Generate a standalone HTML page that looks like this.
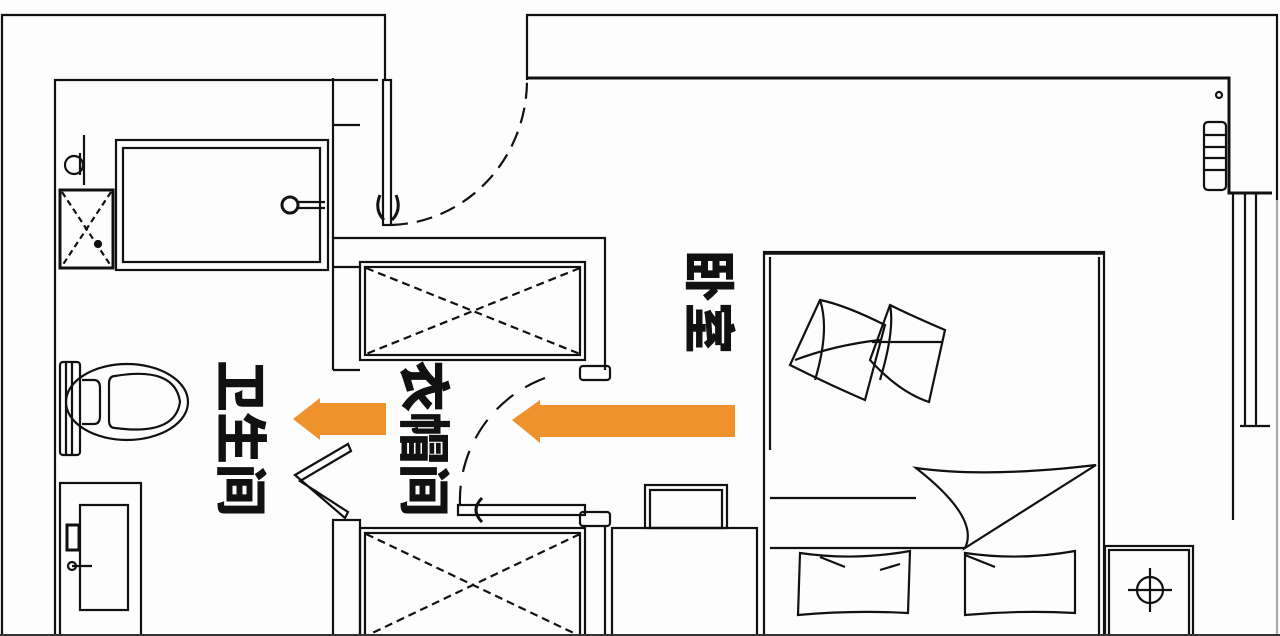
<!DOCTYPE html>
<html><head><meta charset="utf-8"><style>
html,body{margin:0;padding:0;background:#fff;width:1280px;height:636px;overflow:hidden}
svg{display:block}
.t{font-family:"Liberation Sans","Noto Sans CJK SC",sans-serif;font-weight:900;font-size:50px;fill:#111}
</style></head><body>
<svg width="1280" height="636" viewBox="0 0 1280 636" xmlns="http://www.w3.org/2000/svg">
<rect width="1280" height="636" fill="#fdfdfd"/>
<g fill="none" stroke="#111" stroke-width="2.2">
<polyline points="2,636 2,15 385,15 385,80"/>
<polyline points="527,80 527,15 1277,15 1277,200"/>
<polyline points="55,636 55,80 378,80"/>
<polyline points="527,78 1229,78 1229,193 1272,193" stroke-width="3"/>
<line x1="1233" y1="193" x2="1233" y2="520"/>
<line x1="1245" y1="193" x2="1245" y2="426"/>
<line x1="1256" y1="193" x2="1256" y2="426"/>
<line x1="1240" y1="426" x2="1270" y2="426"/>
<line x1="1277" y1="200" x2="1277" y2="636" stroke="#aaa"/>
<circle cx="1219" cy="95" r="3"/>
<rect x="1204" y="122" width="22" height="68" rx="4"/>
<line x1="1204" y1="135" x2="1226" y2="135"/><line x1="1204" y1="147" x2="1226" y2="147"/><line x1="1204" y1="158" x2="1226" y2="158"/><line x1="1204" y1="170" x2="1226" y2="170"/>
<rect x="383" y="80" width="8" height="145"/>
<path d="M392 225 A140 145 0 0 0 527 80" stroke-dasharray="16 9"/>
<path d="M380 195 q-6 15 4 25 M396 195 q6 15 -4 25" stroke-width="3"/>
<line x1="333" y1="78" x2="333" y2="238"/>
<line x1="333" y1="125" x2="360" y2="125"/>
<rect x="116" y="140" width="212" height="130"/>
<rect x="123" y="148" width="197" height="114"/>
<circle cx="290" cy="205" r="8" stroke-width="3"/>
<line x1="298" y1="202" x2="325" y2="202"/><line x1="298" y1="208" x2="325" y2="208"/>
<rect x="60" y="190" width="53" height="78" stroke-width="3"/>
<path d="M62 192 L111 266 M111 192 L62 266" stroke-dasharray="6 4"/>
<circle cx="98" cy="244" r="3" fill="#111"/>
<path d="M80 153 v22 M84 135 v50" />
<circle cx="74" cy="165" r="9"/>
<polyline points="333,370 333,238 605,238 605,370"/>
<line x1="333" y1="370" x2="360" y2="370"/>
<line x1="333" y1="267" x2="360" y2="267"/>
<rect x="360" y="262" width="225" height="98"/>
<rect x="365" y="267" width="215" height="88"/>
<path d="M366 268 L580 354 M580 268 L366 354" stroke-dasharray="8 5"/>
<rect x="580" y="366" width="30" height="14" rx="3"/>
<path d="M545 378 A130 130 0 0 0 460 505" stroke-dasharray="22 14"/>
<rect x="458" y="505" width="127" height="10"/>
<path d="M482 498 q-12 12 0 24" stroke-width="3"/>
<rect x="333" y="520" width="27" height="116"/>
<rect x="360" y="528" width="225" height="110"/>
<rect x="365" y="533" width="215" height="105"/>
<path d="M366 534 L580 636 M580 534 L366 636" stroke-dasharray="8 5"/>
<rect x="580" y="512" width="30" height="14" rx="3"/>
<line x1="605" y1="525" x2="605" y2="636"/>
<path d="M295 475 L348 444 L351 451 L300 481 L348 512 L345 518 Z"/>
<rect x="60" y="362" width="20" height="93" rx="3"/>
<line x1="66" y1="362" x2="66" y2="455"/><line x1="72" y1="362" x2="72" y2="455"/>
<ellipse cx="127" cy="402" rx="61" ry="38"/>
<path d="M82 380 h12 q6 0 6 8 v28 q0 8 -6 8 h-12"/>
<path d="M115 376 q60 -10 65 26 q-5 34 -65 26 q-6 0 -6 -8 v-36 q0 -8 6 -8z"/>
<rect x="60" y="483" width="81" height="153"/>
<rect x="80" y="505" width="48" height="105"/>
<rect x="67" y="525" width="12" height="25" stroke-width="3"/>
<circle cx="72" cy="566" r="4"/><line x1="72" y1="566" x2="92" y2="566"/>
<rect x="612" y="528" width="145" height="110"/>
<rect x="645" y="485" width="82" height="43"/>
<rect x="650" y="490" width="72" height="38"/>
<rect x="764" y="252" width="340" height="390"/>
<line x1="764" y1="253" x2="1104" y2="253" stroke-width="3.5"/>
<line x1="770" y1="257" x2="770" y2="450"/>
<line x1="1099" y1="257" x2="1099" y2="636"/>
<line x1="770" y1="498" x2="916" y2="498"/>
<line x1="770" y1="548" x2="965" y2="548"/>
<path d="M916 468 q70 10 180 -3 L965 548 q15 -30 -49 -80z"/>
<path d="M769 636 h335"/>
<path d="M800 553 q55 8 110 -2 l-2 62 q-55 -3 -110 2 z M820 557 l25 10 M900 564 l-20 6"/>
<path d="M965 553 q55 8 110 -2 l0 62 q-55 -3 -110 2 z M965 555 l30 12"/>
<path d="M790 365 l30 -65 q25 5 65 25 l-20 75 q-35 -15 -75 -35z M820 300 q10 30 -5 80 M795 360 q40 -15 85 -20"/>
<path d="M870 360 l20 -55 q20 10 55 25 l-16 72 q-30 -10 -59 -42z M890 305 q5 25 -10 75 M872 342 q40 0 70 0"/>
<rect x="1105" y="546" width="88" height="90"/>
<rect x="1109" y="550" width="80" height="86"/>
<circle cx="1150" cy="590" r="13"/>
<line x1="1128" y1="590" x2="1172" y2="590"/><line x1="1150" y1="568" x2="1150" y2="612"/>
</g>
<line x1="0" y1="635" x2="1280" y2="635" stroke="#333" stroke-width="2"/>
<polygon points="293,419 320,398 320,403 386,403 386,435 320,435 320,440" fill="#f0922b"/>
<polygon points="512,420 540,400 540,405 735,405 735,437 540,437 540,443" fill="#f0922b"/>
<text class="t" x="222" y="360" style="writing-mode:vertical-rl;text-orientation:sideways;font-size:52px">卫生间</text>
<text class="t" x="405" y="360" style="writing-mode:vertical-rl;text-orientation:sideways;font-size:52px">衣帽间</text>
<text class="t" x="690" y="250" style="writing-mode:vertical-rl;text-orientation:sideways;font-size:52px">卧室</text>
</svg>
</body></html>
